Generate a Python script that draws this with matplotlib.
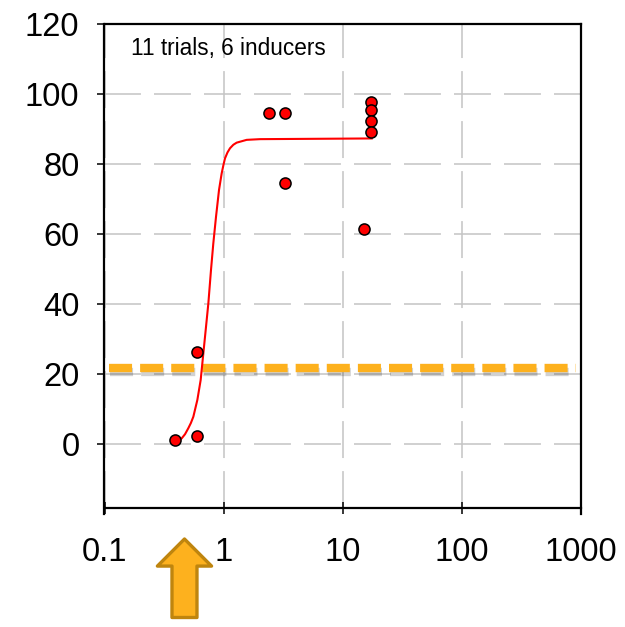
import matplotlib
matplotlib.use("Agg")
import matplotlib.pyplot as plt
import matplotlib.patheffects as pe
from matplotlib.ticker import FixedLocator, NullLocator, FixedFormatter

plt.rcParams['font.family'] = ['Liberation Sans', 'DejaVu Sans']
plt.rcParams['lines.scale_dashes'] = False

# observed responses (one point per trial)
trial_x = [0.39, 0.60, 0.60, 2.4, 3.3, 3.3, 15.2, 17.3, 17.3, 17.3, 17.3]
trial_y = [1.1, 2.3, 26.3, 94.6, 94.6, 74.6, 61.4, 97.7, 95.4, 92.3, 89.1]

# fitted curve
fit_x = [0.391, 0.418, 0.445, 0.475, 0.506, 0.532, 0.558, 0.603, 0.643, 0.677,
         0.713, 0.746, 0.785, 0.821, 0.865, 0.917, 0.965, 1.0, 1.029, 1.08,
         1.134, 1.21, 1.29, 1.566, 2.03, 17.6]
fit_y = [0.9, 1.1, 1.6, 2.8, 4.5, 6.0, 7.8, 12.6, 18.3, 25.9,
         33.5, 40.2, 49.7, 57.3, 64.9, 72.6, 77.3, 79.8, 81.6, 83.3,
         84.5, 85.5, 86.1, 86.9, 87.1, 87.3]

threshold = 21.7
arrow_x = 0.47
label = "11 trials, 6 inducers"

x_ticks = [0.1, 1, 10, 100, 1000]
x_labels = ["0.1", "1", "10", "100", "1000"]
y_ticks = [0, 20, 40, 60, 80, 100, 120]

ORANGE = "#FDB11E"
ARROW_EDGE = "#BF850E"
GRID = "#C4C4C4"

fig = plt.figure(figsize=(6.25, 6.27), dpi=100)
W, H = 625, 627
ax = fig.add_axes([104.5 / W, (H - 514) / H, 476 / W, 490 / H])

ax.set_xscale("log")
ax.set_xlim(0.1, 1000)
ax.set_ylim(-20, 120)

ax.xaxis.set_major_locator(FixedLocator(x_ticks))
ax.xaxis.set_major_formatter(FixedFormatter(x_labels))
ax.xaxis.set_minor_locator(NullLocator())
ax.set_yticks(y_ticks)
ax.yaxis.set_minor_locator(NullLocator())

# dashed grid, Excel style
ax.grid(axis="y", color=GRID, lw=1.1, linestyle=(0, (26.6, 9.4)), zorder=0)
ax.grid(axis="x", color=GRID, lw=1.1, linestyle=(31.7, (26.6, 9.4)), zorder=0)
ax.set_axisbelow(True)

for s in ax.spines.values():
    s.set_linewidth(1.6)
    s.set_color("black")
ax.spines["bottom"].set_position(("data", -18.3))

ax.tick_params(axis="y", direction="out", length=5, width=1.1, labelsize=23.5, pad=13)
ax.tick_params(axis="x", direction="inout", length=9, width=1.1, labelsize=23.5, pad=16)

# threshold line with soft shadow
ax.axhline(threshold, xmin=0.01, xmax=0.99, color=ORANGE, lw=6, solid_capstyle="butt",
           dash_capstyle="butt", linestyle=(0, (16.6, 5.8)), zorder=2,
           path_effects=[pe.SimpleLineShadow(offset=(0.5, -2.5), shadow_color="black", alpha=0.18),
                         pe.Normal()])

ax.plot(fit_x, fit_y, color="red", lw=1.5, zorder=3)
ax.plot(trial_x, trial_y, "o", ms=8, mfc="red", mec="black", mew=1.1, zorder=4)

ax.text(0.055, 0.937, label, transform=ax.transAxes, fontsize=16.3, va="baseline", ha="left")

# arrow under the axis
ax.annotate("", xy=(arrow_x, 88), xytext=(arrow_x, 9.5),
            xycoords=("data", "figure pixels"), textcoords=("data", "figure pixels"),
            annotation_clip=False,
            arrowprops=dict(arrowstyle="simple,head_length=1.95,head_width=3.9,tail_width=1.8",
                            mutation_scale=10, fc=ORANGE, ec=ARROW_EDGE, lw=2.4,
                            shrinkA=0, shrinkB=0))

fig.savefig("out.png", dpi=100)
